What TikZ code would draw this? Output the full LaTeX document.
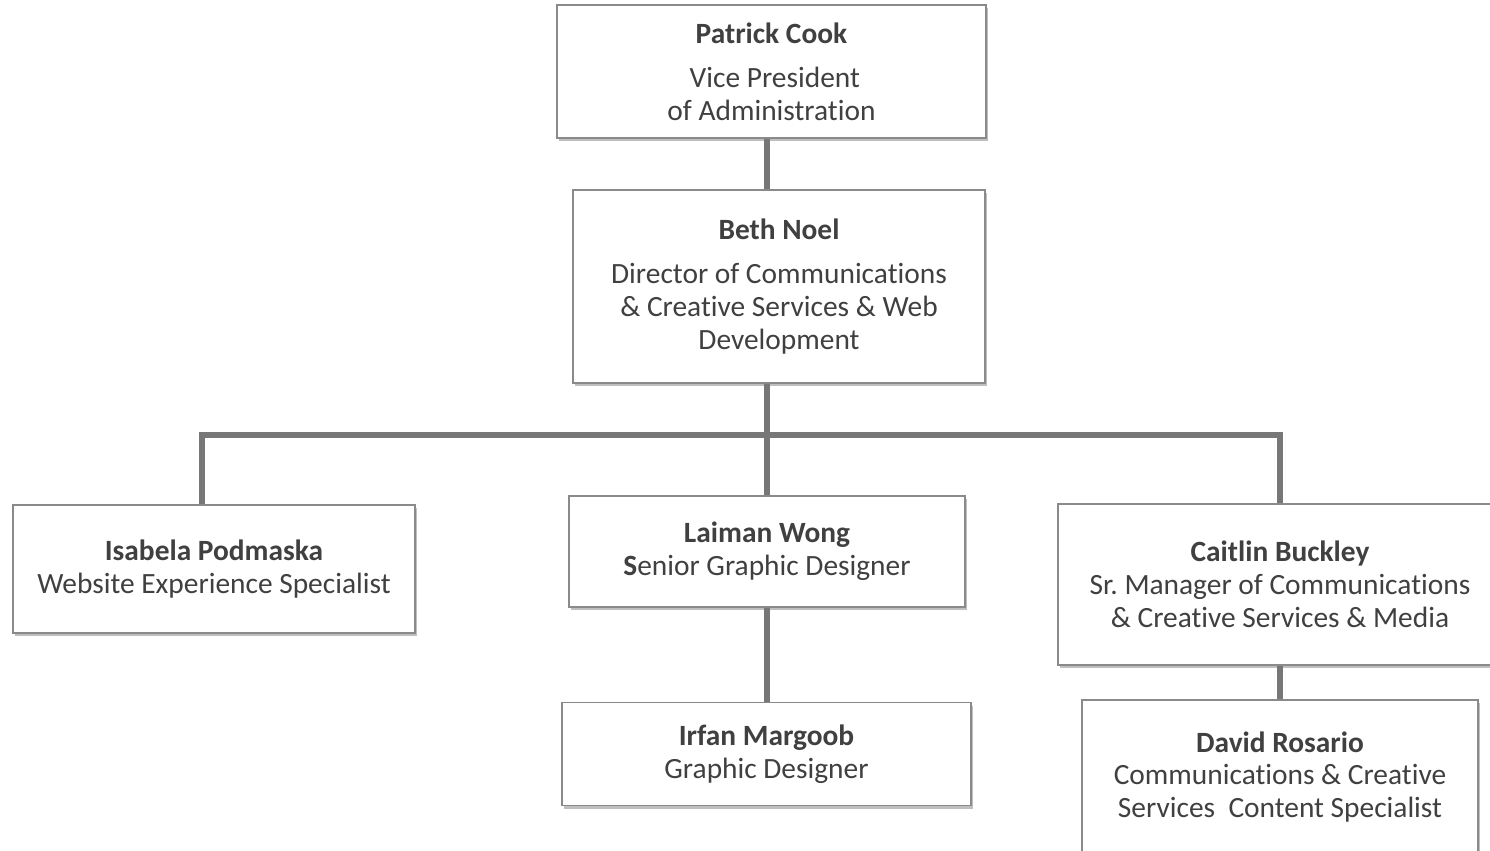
\documentclass[tikz,border=0pt]{standalone}
\usepackage{fontspec}
\setmainfont[Ligatures=NoCommon]{Carlito}
\usetikzlibrary{shadows}
\definecolor{boxline}{HTML}{8A8A8A}
\definecolor{inktext}{HTML}{404040}
\definecolor{linkgray}{HTML}{777777}
\tikzset{
  person/.style={draw=boxline, line width=0.6pt, fill=white, inner sep=0pt,
    align=center, text=inktext, font=\fontsize{14.7}{16.4}\selectfont,
    drop shadow={shadow xshift=1.2pt, shadow yshift=-1.5pt, opacity=0.25, fill=black}},
  link/.style={draw=linkgray, line width=2.6pt}
}
\begin{document}
\frenchspacing
\begin{tikzpicture}[x=0.5pt,y=-0.5pt]
        \useasboundingbox (0,0) rectangle (1490,851);
        \clip (0,0) rectangle (1490,851);

        % Connectors first, boxes sit on top
        \coordinate (bus) at (767,435);

        % Top of the chart
        \node[person, minimum width=214.5pt, minimum height=66.5pt] (patrick) at (771.5,71.5)
            {\textbf{Patrick Cook}\\[5.5pt] \ Vice President\\of Administration};
        \node[person, minimum width=206pt, minimum height=96.5pt] (beth) at (779,286.5)
            {\textbf{Beth Noel}\\[5.5pt]Director of Communications\\\& Creative Services \& Web\\Development};

        % Second row
        \node[person, minimum width=201pt, minimum height=64pt] (isabela) at (214,569)
            {\textbf{Isabela Podmaska}\\Website Experience Specialist};
        \node[person, minimum width=198pt, minimum height=55.5pt] (laiman) at (767,551.5)
            {\textbf{Laiman Wong}\\\textbf{S}enior Graphic Designer};
        \node[person, minimum width=222pt, minimum height=80.5pt] (caitlin) at (1280,584.5)
            {\textbf{Caitlin Buckley}\\Sr. Manager of Communications\\\& Creative Services \& Media};

        % Third row
        \node[person, minimum width=204.5pt, minimum height=51.5pt] (irfan) at (766.5,754)
            {\textbf{Irfan Margoob}\\Graphic Designer};
        \node[person, minimum width=198pt, minimum height=77pt] (david) at (1280,777)
            {\textbf{David Rosario}\\Communications \& Creative\\Services \ Content Specialist};

        % Lines between boxes
        \draw[link] (patrick.south -| bus) -- (beth.north -| bus);
        \draw[link] (beth.south -| bus) -- (bus);
        \draw[link] ([xshift=-6pt]isabela.north) |- (bus) -| (caitlin.north);
        \draw[link] (bus) -- (laiman.north);
        \draw[link] (laiman.south) -- (laiman.south |- irfan.north);
        \draw[link] (caitlin.south) -- (david.north);
\end{tikzpicture}
\end{document}
